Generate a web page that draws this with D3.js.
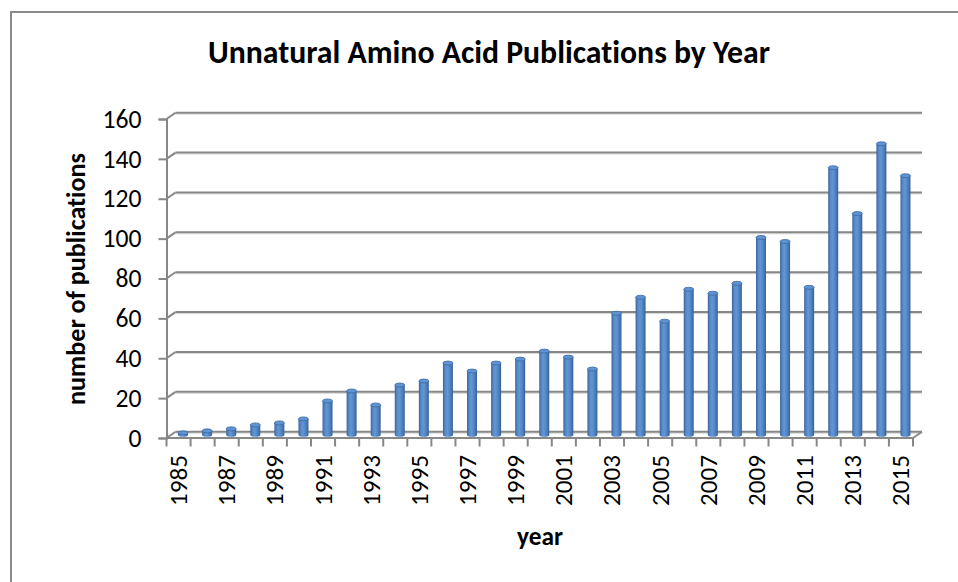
<!DOCTYPE html>
<html>
<head>
<meta charset="utf-8">
<script src="https://cdn.jsdelivr.net/npm/d3@7"></script>
<style>
  html, body { margin: 0; padding: 0; background: #fff; }
  svg { display: block; }
  text { font-family: Calibri, Carlito, Lato, "Open Sans", sans-serif; fill: #000; font-variant-ligatures: none; }
</style>
</head>
<body>
<svg id="chart" width="958" height="582"></svg>
<script>
// ---- data ----
const years = [1985,1986,1987,1988,1989,1990,1991,1992,1993,1994,1995,1996,1997,1998,1999,2000,
               2001,2002,2003,2004,2005,2006,2007,2008,2009,2010,2011,2012,2013,2014,2015];
const publications = [1,2,3,5,6,8,17,22,15,25,27,36,32,36,38,42,
                      39,33,61,69,57,73,71,76,99,97,74,134,111,146,130];
const yTicks = [0,20,40,60,80,100,120,140,160];
const titleText = "Unnatural Amino Acid Publications by Year";
const xTitle = "year";
const yTitle = "number of publications";

(function () {
// ---- layout ----
const W = 958, H = 582;
const svg = d3.select("#chart");
const pLeft = 166.5, pRight = 913, pTop = 119, pBottom = 438;
const depthX = 9, depthY = -6.3;   // 3D back-wall offset

const x = d3.scaleBand().domain(years).range([pLeft, pRight]).padding(0);
const y = d3.scaleLinear().domain([0, 160]).range([pBottom, pTop]);

function fit(sel, target) {
  sel.attr("font-size", 100);
  const w = sel.node().getComputedTextLength();
  sel.attr("font-size", 100 * target / w);
}

// outer chart border
svg.append("rect").attr("x", 11).attr("y", 12).attr("width", W + 20).attr("height", H + 20)
  .attr("fill", "#fff").attr("stroke", "#8a8a8a").attr("stroke-width", 2);

// defs: gradient for cylinders
const defs = svg.append("defs");
const g1 = defs.append("linearGradient").attr("id", "cyl").attr("x1", 0).attr("x2", 1).attr("y1", 0).attr("y2", 0);
[[0, "#3a659b"], [0.25, "#5a8ccb"], [0.45, "#6096d6"], [0.75, "#4f80bd"], [1, "#365f93"]]
  .forEach(([o, c]) => g1.append("stop").attr("offset", o).attr("stop-color", c));

const grid = svg.append("g");
const gridColor = "#878787";

// back-wall gridlines + left-wall diagonals
yTicks.forEach(v => {
  const yf = y(v), yb = y(v) + depthY;
  grid.append("line").attr("x1", pLeft + depthX).attr("x2", pRight + depthX)
    .attr("y1", yb + 1.5).attr("y2", yb + 1.5).attr("stroke", "#d6d6d6").attr("stroke-width", 1);
  grid.append("line").attr("x1", pLeft + depthX).attr("x2", pRight + depthX)
    .attr("y1", yb).attr("y2", yb).attr("stroke", gridColor).attr("stroke-width", 2);
  grid.append("line").attr("x1", pLeft).attr("x2", pLeft + depthX)
    .attr("y1", yf).attr("y2", yb).attr("stroke", gridColor).attr("stroke-width", 2);
});

// floor: front edge + right diagonal
grid.append("line").attr("x1", pLeft).attr("x2", pRight).attr("y1", pBottom).attr("y2", pBottom)
  .attr("stroke", gridColor).attr("stroke-width", 2);
grid.append("line").attr("x1", pRight).attr("x2", pRight + depthX).attr("y1", pBottom).attr("y2", pBottom + depthY)
  .attr("stroke", gridColor).attr("stroke-width", 2);

// y axis (ticks to the left)
const yAxis = d3.axisLeft(y).tickValues(yTicks).tickSize(8).tickPadding(17);
const gy = svg.append("g").attr("transform", `translate(${pLeft},0)`).call(yAxis);
gy.select(".domain").attr("stroke", gridColor).attr("stroke-width", 2);
gy.selectAll(".tick line").attr("stroke", gridColor).attr("stroke-width", 2);
gy.selectAll(".tick text").attr("font-family", null).attr("fill", "#000");
gy.attr("font-family", null);

// x axis ticks at band boundaries
const xAxisG = svg.append("g");
const boundaries = years.map(d => x(d)).concat([x(years[years.length - 1]) + x.bandwidth()]);
xAxisG.selectAll("line").data(boundaries).join("line")
  .attr("x1", d => d).attr("x2", d => d).attr("y1", pBottom).attr("y2", pBottom + 8.5)
  .attr("stroke", gridColor).attr("stroke-width", 2);

// x labels (every other year), rotated
const xLabels = xAxisG.selectAll("text").data(years.filter((d, i) => i % 2 === 0)).join("text")
  .attr("transform", d => `translate(${x(d) + x.bandwidth() / 2},455) rotate(-90)`)
  .attr("text-anchor", "end").attr("dominant-baseline", "central")
  .text(d => d);

// bars as cylinders
const bw = 10;
const bars = svg.append("g");
years.forEach((yr, i) => {
  const v = publications[i];
  const cx = x(yr) + x.bandwidth() / 2 + depthX / 2;
  const base = y(0) + depthY / 2;
  const topY = y(v) + depthY / 2;
  const ry = 2;
  const g = bars.append("g");
  g.append("path")
    .attr("d", `M${cx - bw / 2},${topY} L${cx - bw / 2},${base} A${bw / 2},${ry} 0 0 0 ${cx + bw / 2},${base} L${cx + bw / 2},${topY} Z`)
    .attr("fill", "url(#cyl)");
  g.append("ellipse").attr("cx", cx).attr("cy", topY).attr("rx", bw / 2).attr("ry", ry)
    .attr("fill", "#5f93d2").attr("stroke", "#3c6aa3").attr("stroke-width", 0.8);
});

// title
const t = svg.append("text").attr("x", 489).attr("y", 63).attr("text-anchor", "middle")
  .attr("font-weight", "bold").text(titleText);
fit(t, 562);

// axis titles
const xt = svg.append("text").attr("x", 540).attr("y", 545).attr("text-anchor", "middle")
  .attr("font-weight", "bold").text(xTitle);
fit(xt, 46);
const yt = svg.append("text").attr("transform", "translate(85,279) rotate(-90)")
  .attr("text-anchor", "middle").attr("font-weight", "bold").text(yTitle);
fit(yt, 252);

// tick label sizes fitted to reference widths
const sample = gy.selectAll(".tick text").filter(d => d === 160);
fit(sample, 39);
gy.selectAll(".tick text").attr("font-size", sample.attr("font-size"));
const xs = xLabels.filter((d, i) => i === 0);
fit(xs, 51);
xLabels.attr("font-size", xs.attr("font-size"));
})();
</script>
</body>
</html>
